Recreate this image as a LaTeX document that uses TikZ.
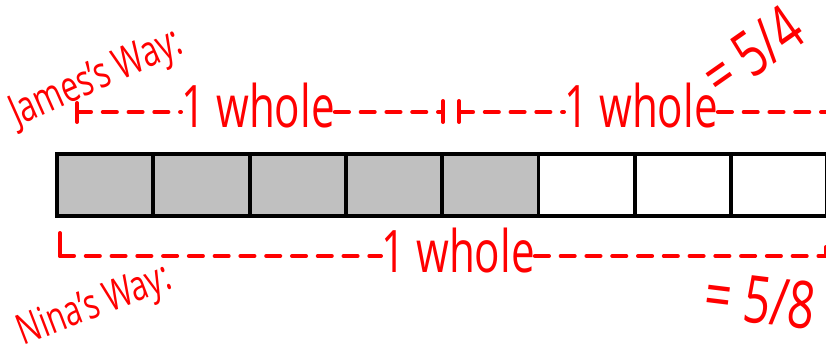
\documentclass[tikz,border=0pt]{standalone}
\usepackage{fontspec}
\setmainfont{Open Sans}
\usepackage{xcolor}
\usetikzlibrary{positioning,calc}
\definecolor{penred}{RGB}{255,0,0}
\definecolor{shade}{RGB}{192,192,192}
\tikzset{
  cellbox/.style={rectangle, draw=black, line width=3.4pt, inner sep=0pt,
                  minimum width=2.889cm, minimum height=1.86cm, fill=#1},
  hand/.style={text=penred, inner sep=0pt, font=\fontsize{#1}{#1}\selectfont,
               xscale=0.72, transform shape},
  dashline/.style={draw=penred, line width=3.4pt, line cap=round,
                   dash pattern=on 12pt off 10pt},
  tickline/.style={draw=penred, line width=3.4pt, line cap=round},
}

\begin{document}
\begin{tikzpicture}[x=0.03cm, y=-0.03cm]
  \useasboundingbox (0,0) rectangle (826,351);
  % the bar of eighths
  \foreach \i in {0,...,4}
    \node[cellbox=shade] (c\i) at ({105.15+96.3*\i},185) {};
  \foreach \i in {5,...,7}
    \node[cellbox=white] (c\i) at ({105.15+96.3*\i},185) {};

  % James's way
  \node[rotate=24, hand=37] (james) at (97,80) {James's Way:};
  \coordinate (j0) at (77,112);
  \coordinate (j1) at (443,112);
  \coordinate (j2) at (459,112);
  \coordinate (j3) at (826,112);
  \node[hand=50, anchor=base west] (jw1) at (181,127) {1 whole};
  \node[hand=50, anchor=base west] (jw2) at (564,127) {1 whole};
  \draw[tickline] ($(j0)+(0,-9)$) -- ($(j0)+(0,10)$);
  \draw[tickline] ($(j1)+(0,-11)$) -- ($(j1)+(0,10)$);
  \draw[tickline] ($(j2)+(0,-11)$) -- ($(j2)+(0,10)$);
  \draw[dashline] (j0) -- (j0 -| jw1.west);
  \draw[dashline] (j0 -| jw1.east) -- (j1);
  \draw[dashline] (j2) -- (j2 -| jw2.west);
  \draw[dashline] (j2 -| jw2.east) -- (j3);
  \node[rotate=35, hand=54] (jfrac) at (752,52) {= 5/4};

  % Nina's way
  \node[rotate=21, hand=36] (nina) at (95,307) {Nina's Way:};
  \coordinate (n0) at (60,256);
  \coordinate (n1) at (826,256);
  \node[hand=50, anchor=base west] (nw) at (381,272) {1 whole};
  \draw[tickline] ($(n0)+(0,-23)$) -- (n0);
  \draw[tickline] ($(n1)+(0,-9)$) -- (n1);
  \draw[dashline] (n0) -- (n0 -| nw.west);
  \draw[dashline] (n0 -| nw.east) -- (n1);
  \node[rotate=-7, hand=56] (nfrac) at (760,300) {= 5/8};
\end{tikzpicture}
\end{document}
